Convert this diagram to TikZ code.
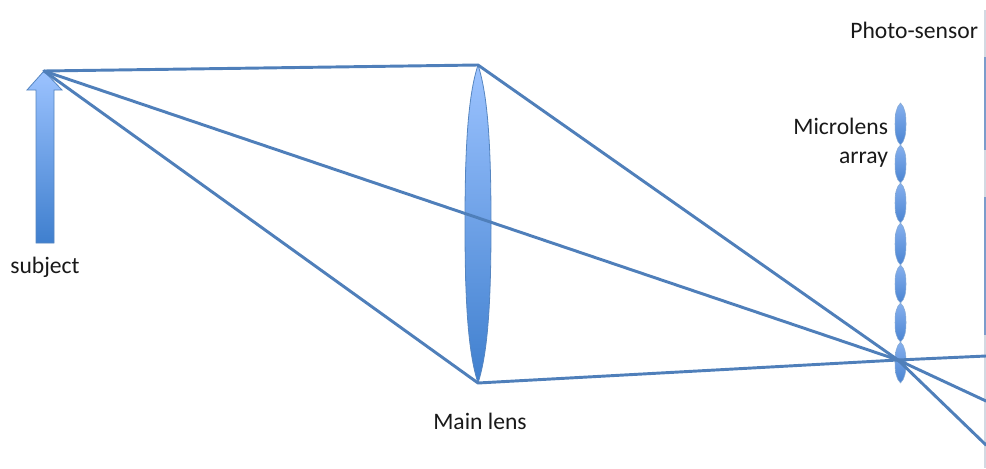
\documentclass[tikz,border=0pt]{standalone}
\usepackage{fontspec}
\setmainfont{Carlito}
\definecolor{ray}{HTML}{4F7FBA}
\definecolor{lenstop}{HTML}{9CC3FF}
\definecolor{lensbot}{HTML}{3F7FCE}
\definecolor{lensedge}{HTML}{5585C0}
\definecolor{microtop}{HTML}{86B0EE}
\definecolor{microbot}{HTML}{4A84D2}
\definecolor{sensorgray}{HTML}{D3D9E2}
\definecolor{sensorblue}{HTML}{7C9CCB}
% style, x, top y, bottom y, half width
\newcommand{\lensshape}[5]{%
  \path[#1] (#2,#3)
    .. controls ({#2-0.8*#5},{#3+0.10*(#4-#3)}) and ({#2-#5},{#3+0.27*(#4-#3)}) .. ({#2-#5},{#3+0.5*(#4-#3)})
    .. controls ({#2-#5},{#3+0.73*(#4-#3)}) and ({#2-0.8*#5},{#3+0.90*(#4-#3)}) .. (#2,#4)
    .. controls ({#2+0.8*#5},{#3+0.90*(#4-#3)}) and ({#2+#5},{#3+0.73*(#4-#3)}) .. ({#2+#5},{#3+0.5*(#4-#3)})
    .. controls ({#2+#5},{#3+0.27*(#4-#3)}) and ({#2+0.8*#5},{#3+0.10*(#4-#3)}) .. cycle;}
\tikzset{
  lensbody/.style={draw=lensedge,line width=0.6pt,top color=lenstop,bottom color=lensbot,shading angle=0},
  microbody/.style={draw=lensedge!70,line width=0.4pt,top color=microtop,bottom color=microbot,shading angle=0},
  rayline/.style={draw=ray,line width=2.2pt,line cap=round,line join=round},
  caption/.style={font=\fontsize{17.7}{20}\selectfont,text=black!90,inner sep=0pt,outer sep=0pt}
}
\begin{document}
\begin{tikzpicture}[x=0.75pt,y=-0.75pt]
\useasboundingbox (0,0) rectangle (986,468);
% photo-sensor
\fill[sensorgray] (984,10) rectangle (986,468);
\fill[sensorblue] (984,57) rectangle (986,150);
\fill[sensorblue] (984,197) rectangle (986,335);
% subject arrow
\path[lensbody] (44,71) -- (62,90) -- (54,90) -- (54,243) -- (36,243) -- (36,90) -- (27,90) -- cycle;
% main lens
\lensshape{lensbody}{478}{65}{383}{13}
% microlens array
\lensshape{microbody}{900.5}{103}{145}{5.5}
\lensshape{microbody}{900.5}{145}{183}{5.5}
\lensshape{microbody}{900.5}{183}{223}{5.5}
\lensshape{microbody}{900.5}{223}{265}{5.5}
\lensshape{microbody}{900.5}{265}{303}{5.5}
\lensshape{microbody}{900.5}{303}{342}{5.5}
\lensshape{microbody}{900.5}{342}{383}{5.5}
% ray points
\coordinate (tip) at (44,71);
\coordinate (lenstop) at (478,65);
\coordinate (lensbot) at (478,383);
\coordinate (focus) at (898,360);
\coordinate (out1) at (986,356);
\coordinate (out2) at (986,401);
\coordinate (out3) at (986,445);
\draw[rayline] (tip) -- (lenstop) -- (focus) -- (out3);
\draw[rayline] (tip) -- (focus) -- (out2);
\draw[rayline] (tip) -- (lensbot) -- (focus) -- (out1);
% labels
\node[caption,anchor=base] (subj) at (45,273) {subject};
\node[caption,anchor=base] (main) at (480,429) {Main lens};
\node[caption,anchor=base east] (micro1) at (888,134) {Microlens};
\node[caption,anchor=base east] (micro2) at (888,163) {array};
\node[caption,anchor=base east] (photo) at (978,38) {Photo-sensor};
\end{tikzpicture}
\end{document}
